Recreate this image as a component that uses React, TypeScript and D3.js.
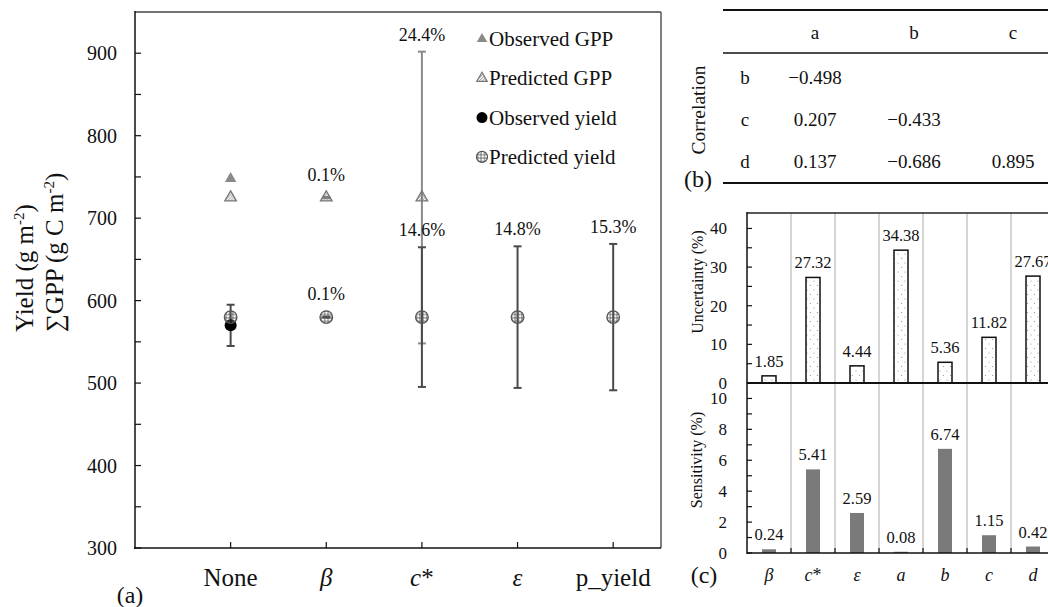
import React from "react";
import * as d3 from "d3";

// Panel (a): model scenarios and GPP / yield estimates
const scenarios = ["None", "β", "c*", "ε", "p_yield"];
const observedGpp = [748, null, null, null, null];
const predictedGpp = [725, 725, 725, null, null];
const gppCv = [null, 0.1, 24.4, null, null];
const observedYield = [570, null, null, null, null];
const observedYieldSd = [25, null, null, null, null];
const predictedYield = [580, 580, 580, 580, 580];
const yieldCv = [null, 0.1, 14.6, 14.8, 15.3];
const yTicksA = [300, 400, 500, 600, 700, 800, 900];
const yMinorA = [350, 450, 550, 650, 750, 850];
const legendItems = ["Observed GPP", "Predicted GPP", "Observed yield", "Predicted yield"];

// Panel (b): parameter correlations
const corrCols = ["a", "b", "c"];
const corrRows = ["b", "c", "d"];
const corrValues = [
  [-0.498, null, null],
  [0.207, -0.433, null],
  [0.137, -0.686, 0.895],
];

// Panel (c): uncertainty and sensitivity per parameter
const params = ["β", "c*", "ε", "a", "b", "c", "d"];
const uncertainty = [1.85, 27.32, 4.44, 34.38, 5.36, 11.82, 27.67];
const sensitivity = [0.24, 5.41, 2.59, 0.08, 6.74, 1.15, 0.42];
const uTicks = [0, 10, 20, 30, 40];
const uMinor = [5, 15, 25, 35];
const sTicks = [0, 2, 4, 6, 8, 10];
const sMinor = [1, 3, 5, 7, 9];

const FONT = "Liberation Serif";

const fmtCorr = (v: number) => (v < 0 ? "\u2212" : "") + Math.abs(v).toFixed(3);

function Label({ name, x, y, size }: { name: string; x: number; y: number; size: number }) {
  if (name === "c*") {
    return (
      <text x={x} y={y} fontSize={size} textAnchor="middle">
        <tspan fontStyle="italic">c</tspan>
        <tspan>*</tspan>
      </text>
    );
  }
  const italic = name !== "None" && name !== "p_yield";
  return (
    <text x={x} y={y} fontSize={size} textAnchor="middle" fontStyle={italic ? "italic" : "normal"}>
      {name}
    </text>
  );
}

export default function App() {
  // ---------- panel (a) ----------
  const xA = d3.scaleLinear().domain([0, 5.5]).range([135, 661]);
  const yA = d3.scaleLinear().domain([300, 950]).range([548, 12]);
  const tri = d3.symbol().type(d3.symbolTriangle).size(58)()!;
  const triLegend = d3.symbol().type(d3.symbolTriangle).size(48)()!;
  const gppColor = "#8a8a8a";
  const yieldColor = "#4a4a4a";

  const errBar = (cx: number, lo: number, hi: number, color: string, key: string) => (
    <g key={key} stroke={color} strokeWidth={2}>
      <line x1={cx} x2={cx} y1={yA(lo)} y2={yA(hi)} />
      <line x1={cx - 4} x2={cx + 4} y1={yA(lo)} y2={yA(lo)} />
      <line x1={cx - 4} x2={cx + 4} y1={yA(hi)} y2={yA(hi)} />
    </g>
  );

  const cvLabel = (cx: number, mean: number, cv: number, key: string) => {
    const top = Math.min(yA(mean * (1 + cv / 100)), yA(mean) - 6);
    return (
      <text key={key} x={cx} y={top - 11} fontSize={18} textAnchor="middle">
        {cv.toFixed(1)}%
      </text>
    );
  };

  // ---------- panel (c) ----------
  const xC = d3.scaleBand<string>().domain(params).range([747, 1055]);
  const bw = xC.bandwidth();
  const barW = 14;
  const yU = d3.scaleLinear().domain([0, 44]).range([383, 213]);
  const yS = d3.scaleLinear().domain([0, 11]).range([553, 383]);

  return (
    <svg
      width={1048}
      height={607}
      style={{ position: "absolute", left: 0, top: 0, background: "#fff" }}
      fontFamily={FONT}
      fill="#111"
    >
      <defs>
        <pattern id="diag" patternUnits="userSpaceOnUse" width={3} height={3}>
          <path d="M0,3 L3,0 M-1,1 L1,-1 M2,4 L4,2" stroke="#666" strokeWidth={0.8} />
        </pattern>
        <pattern id="grid" patternUnits="userSpaceOnUse" width={3.4} height={3.4}>
          <path d="M1.7,0 V3.4 M0,1.7 H3.4" stroke="#555" strokeWidth={0.8} />
        </pattern>
        <pattern id="dots" patternUnits="userSpaceOnUse" width={7} height={9}>
          <circle cx={2} cy={2} r={0.6} fill="#8a8a8a" />
          <circle cx={5.5} cy={6.5} r={0.6} fill="#8a8a8a" />
        </pattern>
      </defs>

      {/* ===== panel (a) ===== */}
      <g>
        <line x1={135} x2={661} y1={12} y2={12} stroke="#444" strokeWidth={1.5} />
        <line x1={661} x2={661} y1={12} y2={548} stroke="#555" strokeWidth={1.5} />
        <line x1={135} x2={135} y1={11} y2={549} stroke="#111" strokeWidth={1.5} />
        <line x1={134} x2={661} y1={548} y2={548} stroke="#111" strokeWidth={1.5} />
        {yTicksA.map((t) => (
          <g key={"ya" + t}>
            <line x1={135} x2={141} y1={yA(t)} y2={yA(t)} stroke="#111" strokeWidth={1.2} />
            <text x={117} y={yA(t) + 7} fontSize={20} textAnchor="end">
              {t}
            </text>
          </g>
        ))}
        {yMinorA.map((t) => (
          <line key={"yam" + t} x1={135} x2={141} y1={yA(t)} y2={yA(t)} stroke="#111" strokeWidth={1.2} />
        ))}
        {scenarios.map((s, i) => (
          <g key={"xa" + s}>
            <line x1={xA(i + 1)} x2={xA(i + 1)} y1={548} y2={542} stroke="#111" strokeWidth={1.2} />
            <Label name={s} x={xA(i + 1)} y={586} size={25} />
          </g>
        ))}

        {/* error bars: GPP first, yield on top */}
        {scenarios.map((s, i) => {
          const m = predictedGpp[i];
          const cv = gppCv[i];
          if (m == null || cv == null) return null;
          const e = (m * cv) / 100;
          return errBar(xA(i + 1), m - e, m + e, gppColor, "ge" + i);
        })}
        {scenarios.map((s, i) => {
          const m = predictedYield[i];
          const cv = yieldCv[i];
          if (m == null || cv == null) return null;
          const e = (m * cv) / 100;
          return errBar(xA(i + 1), m - e, m + e, yieldColor, "ye" + i);
        })}
        {scenarios.map((s, i) => {
          const m = observedYield[i];
          const sd = observedYieldSd[i];
          if (m == null || sd == null) return null;
          return errBar(xA(i + 1), m - sd, m + sd, yieldColor, "oe" + i);
        })}

        {/* markers */}
        {scenarios.map((s, i) => {
          const cx = xA(i + 1);
          return (
            <g key={"mk" + i}>
              {observedGpp[i] != null && (
                <path d={tri} transform={`translate(${cx},${yA(observedGpp[i]!)})`} fill={gppColor} />
              )}
              {predictedGpp[i] != null && (
                <path
                  d={tri}
                  transform={`translate(${cx},${yA(predictedGpp[i]!)})`}
                  fill="url(#diag)"
                  stroke="#777"
                  strokeWidth={1.3}
                />
              )}
              {observedYield[i] != null && <circle cx={cx} cy={yA(observedYield[i]!)} r={6} fill="#000" />}
              {predictedYield[i] != null && (
                <circle
                  cx={cx}
                  cy={yA(predictedYield[i]!)}
                  r={6.3}
                  fill="url(#grid)"
                  stroke="#555"
                  strokeWidth={1.3}
                />
              )}
            </g>
          );
        })}

        {/* coefficient-of-variation labels */}
        {scenarios.map((s, i) =>
          predictedGpp[i] != null && gppCv[i] != null ? cvLabel(xA(i + 1), predictedGpp[i]!, gppCv[i]!, "gl" + i) : null
        )}
        {scenarios.map((s, i) =>
          predictedYield[i] != null && yieldCv[i] != null
            ? cvLabel(xA(i + 1), predictedYield[i]!, yieldCv[i]!, "yl" + i)
            : null
        )}

        {/* legend */}
        {legendItems.map((name, k) => {
          const cy = 39 + k * 39.3;
          const mx = 482;
          let mark: React.ReactNode;
          if (k === 0) mark = <path d={triLegend} transform={`translate(${mx},${cy})`} fill={gppColor} />;
          else if (k === 1)
            mark = (
              <path d={triLegend} transform={`translate(${mx},${cy})`} fill="url(#diag)" stroke="#777" strokeWidth={1.2} />
            );
          else if (k === 2) mark = <circle cx={mx} cy={cy} r={5.5} fill="#000" />;
          else mark = <circle cx={mx} cy={cy} r={5.5} fill="url(#grid)" stroke="#555" strokeWidth={1.2} />;
          return (
            <g key={"lg" + k}>
              {mark}
              <text x={489} y={cy + 7} fontSize={21}>
                {name}
              </text>
            </g>
          );
        })}

        {/* axis title */}
        <text transform="translate(33,332) rotate(-90)" fontSize={25}>
          Yield (g m<tspan dy={-9} fontSize={15}>-2</tspan>
          <tspan dy={9}>)</tspan>
        </text>
        <text transform="translate(63,332) rotate(-90)" fontSize={25}>
          ∑GPP  (g C m<tspan dy={-9} fontSize={15}>-2</tspan>
          <tspan dy={9}>)</tspan>
        </text>
        <text x={130} y={603} fontSize={24} textAnchor="middle">
          (a)
        </text>
      </g>

      {/* ===== panel (b) ===== */}
      <g>
        <line x1={723} x2={1048} y1={10} y2={10} stroke="#111" strokeWidth={2} />
        <line x1={723} x2={1048} y1={53} y2={53} stroke="#111" strokeWidth={1.5} />
        <line x1={723} x2={1048} y1={183} y2={183} stroke="#111" strokeWidth={2} />
        {corrCols.map((c, j) => (
          <text key={"cc" + c} x={815 + j * 99} y={39} fontSize={19} textAnchor="middle">
            {c}
          </text>
        ))}
        {corrRows.map((r, i) => (
          <g key={"cr" + r}>
            <text x={745} y={84 + i * 42} fontSize={19} textAnchor="middle">
              {r}
            </text>
            {corrValues[i].map((v, j) =>
              v == null ? null : (
                <text key={"cv" + j} x={815 + j * 99} y={84 + i * 42} fontSize={19} textAnchor="middle">
                  {fmtCorr(v)}
                </text>
              )
            )}
          </g>
        ))}
        <text transform="translate(705,110) rotate(-90)" fontSize={19.5} textAnchor="middle">
          Correlation
        </text>
        <text x={698} y={187} fontSize={24} textAnchor="middle">
          (b)
        </text>
      </g>

      {/* ===== panel (c) ===== */}
      <g>
        {params.map((p, i) =>
          i === 0 ? null : (
            <line key={"sep" + p} x1={xC(p)!} x2={xC(p)!} y1={213} y2={553} stroke="#c8c8c8" strokeWidth={1.5} />
          )
        )}
        {/* uncertainty bars */}
        {params.map((p, i) => {
          const cx = xC(p)! + bw / 2;
          return (
            <g key={"ub" + p}>
              <rect
                x={cx - barW / 2}
                y={yU(uncertainty[i])}
                width={barW}
                height={yU(0) - yU(uncertainty[i])}
                fill="url(#dots)"
                stroke="#111"
                strokeWidth={1.5}
              />
              <text x={cx} y={yU(uncertainty[i]) - 9} fontSize={16.5} textAnchor="middle">
                {uncertainty[i].toFixed(2)}
              </text>
            </g>
          );
        })}
        {/* sensitivity bars */}
        {params.map((p, i) => {
          const cx = xC(p)! + bw / 2;
          return (
            <g key={"sb" + p}>
              <rect
                x={cx - barW / 2}
                y={yS(sensitivity[i])}
                width={barW}
                height={yS(0) - yS(sensitivity[i])}
                fill="#7a7a7a"
              />
              <text x={cx} y={yS(sensitivity[i]) - 9} fontSize={16.5} textAnchor="middle">
                {sensitivity[i].toFixed(2)}
              </text>
            </g>
          );
        })}
        <line x1={747} x2={1048} y1={213} y2={213} stroke="#222" strokeWidth={1.5} />
        <line x1={747} x2={1048} y1={383} y2={383} stroke="#111" strokeWidth={2} />
        <line x1={747} x2={1048} y1={553} y2={553} stroke="#111" strokeWidth={1.5} />
        <line x1={747} x2={747} y1={212} y2={554} stroke="#111" strokeWidth={1.5} />
        {uTicks.map((t) => (
          <g key={"ut" + t}>
            <line x1={747} x2={752} y1={yU(t)} y2={yU(t)} stroke="#111" strokeWidth={1.2} />
            <text x={727} y={yU(t) + 6} fontSize={17} textAnchor="end">
              {t}
            </text>
          </g>
        ))}
        {uMinor.map((t) => (
          <line key={"um" + t} x1={747} x2={752} y1={yU(t)} y2={yU(t)} stroke="#111" strokeWidth={1.2} />
        ))}
        {sTicks.map((t) => (
          <g key={"st" + t}>
            <line x1={747} x2={752} y1={yS(t)} y2={yS(t)} stroke="#111" strokeWidth={1.2} />
            {t > 0 && (
              <text x={727} y={yS(t) + 6} fontSize={17} textAnchor="end">
                {t}
              </text>
            )}
          </g>
        ))}
        <text x={727} y={yS(0) + 6} fontSize={17} textAnchor="end">
          0
        </text>
        {sMinor.map((t) => (
          <line key={"sm" + t} x1={747} x2={752} y1={yS(t)} y2={yS(t)} stroke="#111" strokeWidth={1.2} />
        ))}
        {params.map((p, i) => (
          <g key={"xc" + p}>
            {i > 0 && <line x1={xC(p)!} x2={xC(p)!} y1={553} y2={548} stroke="#111" strokeWidth={1.2} />}
            <Label name={p} x={xC(p)! + bw / 2} y={581} size={18} />
          </g>
        ))}
        <text transform="translate(703,282) rotate(-90)" fontSize={16} textAnchor="middle">
          Uncertainty (%)
        </text>
        <text transform="translate(702,460) rotate(-90)" fontSize={16} textAnchor="middle">
          Sensitivity (%)
        </text>
        <text x={704} y={583} fontSize={24} textAnchor="middle">
          (c)
        </text>
      </g>
    </svg>
  );
}
